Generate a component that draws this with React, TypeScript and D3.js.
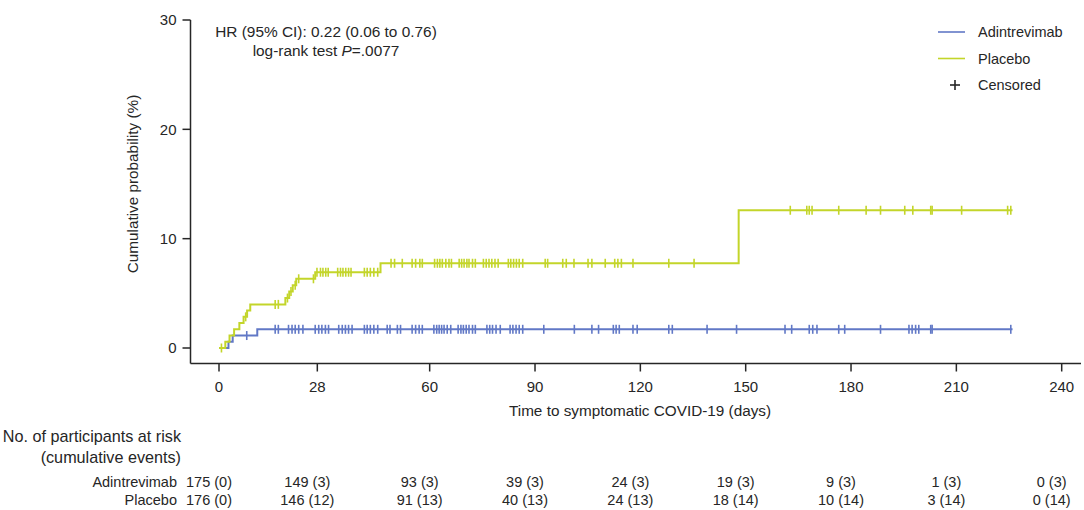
import * as d3 from 'd3';
import React from 'react';

// x axis ticks (days) and y axis ticks (%)
const xTicks = [0, 28, 60, 90, 120, 150, 180, 210, 240];
const yTicks = [0, 10, 20, 30];

// Kaplan-Meier steps
const adinDays = [0, 2.7, 3.9, 10.9, 226];
const adinProb = [0, 0.57, 1.14, 1.71, 1.71];
const adinCensor = [7.9, 16.0, 16.9, 19.8, 20.8, 21.7, 22.7, 23.9, 27.4, 28.4, 29.3, 30.3, 31.2, 34.1, 35.1, 36.0,
  36.9, 37.9, 41.4, 42.2, 43.1, 44.1, 45.2, 47.9, 48.7, 50.8, 51.7, 55.0, 56.0, 57.0, 57.9, 61.2, 62.0, 62.7, 63.4,
  64.1, 65.0, 66.0, 68.1, 68.9, 69.6, 70.4, 71.2, 72.2, 73.0, 76.3, 77.1, 77.9, 78.9, 80.1, 82.9, 83.7, 84.6, 85.5,
  86.5, 92.5, 101.2, 106.2, 108.1, 112.3, 113.1, 114.0, 117.9, 119.1, 128.1, 129.1, 139.0, 147.4, 161.2, 163.1,
  168.1, 169.1, 170.3, 176.5, 178.2, 188.4, 196.5, 197.4, 198.4, 199.3, 202.7, 203.1, 225.5];

const placeboDays = [0, 1.8, 3.0, 4.3, 5.8, 7.0, 8.0, 8.9, 18.9, 20.0, 21.0, 22.0, 27.4, 46.0, 148.0, 226];
const placeboProb = [0, 0.57, 1.14, 1.71, 2.28, 2.85, 3.42, 3.99, 4.57, 5.16, 5.75, 6.33, 6.93, 7.75, 12.6, 12.6];
const placeboCensor = [0.7, 7.6, 16.0, 16.9, 19.5, 20.5, 21.7, 22.7, 26.9, 27.9, 28.9, 29.6, 30.4, 31.1, 33.8, 34.6,
  35.3, 36.1, 36.9, 37.6, 41.4, 42.2, 43.1, 44.1, 45.2, 49.0, 50.0, 52.2, 55.0, 56.0, 57.2, 57.9, 61.4, 62.2, 62.9,
  63.6, 64.6, 65.5, 66.2, 68.4, 69.1, 69.8, 70.6, 71.2, 72.2, 73.0, 75.3, 76.1, 76.9, 77.7, 78.6, 79.5, 82.4, 83.1,
  83.9, 84.7, 85.5, 86.5, 92.9, 93.6, 97.9, 98.9, 101.1, 105.1, 106.2, 110.0, 112.7, 113.6, 114.6, 117.9, 128.1,
  135.3, 162.7, 167.4, 168.1, 168.9, 176.5, 184.3, 188.4, 195.3, 197.6, 202.7, 203.1, 211.5, 224.6, 225.5];

// number at risk table
const riskGroups = ['Adintrevimab', 'Placebo'];
const adinAtRisk = ['175 (0)', '149 (3)', '93 (3)', '39 (3)', '24 (3)', '19 (3)', '9 (3)', '1 (3)', '0 (3)'];
const placeboAtRisk = ['176 (0)', '146 (12)', '91 (13)', '40 (13)', '24 (13)', '18 (14)', '10 (14)', '3 (14)', '0 (14)'];

const BLUE = '#6178c6';
const LIME = '#c3d52a';
const INK = '#262626';
const FONT = '"Liberation Sans", Arial, sans-serif';

export default function App() {
  const x = d3.scaleLinear().domain([0, 240]).range([219, 1061.7]);
  const y = d3.scaleLinear().domain([0, 30]).range([348, 20]);
  const axisX = 190.5;
  const axisY = 363.5;

  const line = d3.line<[number, number]>()
    .x(d => x(d[0]))
    .y(d => y(d[1]))
    .curve(d3.curveStepAfter);

  const levelAt = (days: number[], prob: number[], t: number) => {
    const i = d3.bisectRight(days, t) - 1;
    return prob[Math.max(0, i)];
  };

  const series = [
    {name: 'Adintrevimab', days: adinDays, prob: adinProb, censor: adinCensor, color: BLUE},
    {name: 'Placebo', days: placeboDays, prob: placeboProb, censor: placeboCensor, color: LIME},
  ];

  const riskRows = [adinAtRisk, placeboAtRisk];

  return (
    <svg width={1084} height={510} style={{position: 'absolute', left: 0, top: 0, background: '#fff'}}
      fontFamily={FONT} fontSize={14.5} fill={INK}>
      {/* axes */}
      <line x1={axisX} x2={axisX} y1={y(30)} y2={axisY} stroke={INK} strokeWidth={1.5} />
      <line x1={axisX} x2={1081} y1={axisY} y2={axisY} stroke={INK} strokeWidth={1.5} />
      {yTicks.map(t => (
        <g key={'y' + t} transform={`translate(${axisX},${y(t)})`}>
          <line x1={-8} x2={0} stroke={INK} strokeWidth={1.5} />
          <text x={-14} dy="0.35em" textAnchor="end" fontSize={15}>{t}</text>
        </g>
      ))}
      {xTicks.map(t => (
        <g key={'x' + t} transform={`translate(${x(t)},${axisY})`}>
          <line y1={0} y2={8} stroke={INK} strokeWidth={1.5} />
          <text y={28} textAnchor="middle" fontSize={15}>{t}</text>
        </g>
      ))}
      <text x={640} y={416} textAnchor="middle" fontSize={15.3}>Time to symptomatic COVID-19 (days)</text>
      <text transform={`translate(138,${y(15)}) rotate(-90)`} textAnchor="middle" fontSize={15.3}>Cumulative probability (%)</text>

      {/* curves */}
      {series.map(s => (
        <g key={s.name}>
          <path d={line(s.days.map((d, i) => [d, s.prob[i]] as [number, number])) || ''}
            fill="none" stroke={s.color} strokeWidth={2} />
          {s.censor.map((c, i) => {
            const cy = y(levelAt(s.days, s.prob, c));
            return <line key={i} x1={x(c)} x2={x(c)} y1={cy - 4.5} y2={cy + 4.5} stroke={s.color} strokeWidth={1.6} />;
          })}
        </g>
      ))}

      {/* annotation */}
      <text x={326} y={37} textAnchor="middle" fontSize={15.4}>HR (95% CI): 0.22 (0.06 to 0.76)</text>
      <text x={326} y={56} textAnchor="middle" fontSize={15.4}>log-rank test <tspan fontStyle="italic">P</tspan>=.0077</text>

      {/* legend */}
      {series.map((s, i) => (
        <g key={'lg' + s.name} transform={`translate(938,${32 + i * 26.5})`}>
          <line x1={0} x2={27} stroke={s.color} strokeWidth={1.6} />
          <text x={40} dy="0.35em">{s.name}</text>
        </g>
      ))}
      <g transform="translate(938,85)">
        <line x1={12} x2={22} stroke={INK} strokeWidth={1.6} />
        <line x1={17} x2={17} y1={-5} y2={5} stroke={INK} strokeWidth={1.6} />
        <text x={40} dy="0.35em">Censored</text>
      </g>

      {/* risk table */}
      <text x={181} y={442} textAnchor="end" fontSize={16.2}>No. of participants at risk</text>
      <text x={181} y={463} textAnchor="end" fontSize={16.2}>(cumulative events)</text>
      {riskRows.map((row, r) => (
        <g key={'rr' + r} transform={`translate(0,${487 + r * 18})`}>
          <text x={177} textAnchor="end">{riskGroups[r]}</text>
          {row.map((v, i) => (
            <text key={i} x={x(xTicks[i]) - 10} textAnchor="middle">{v}</text>
          ))}
        </g>
      ))}
    </svg>
  );
}
